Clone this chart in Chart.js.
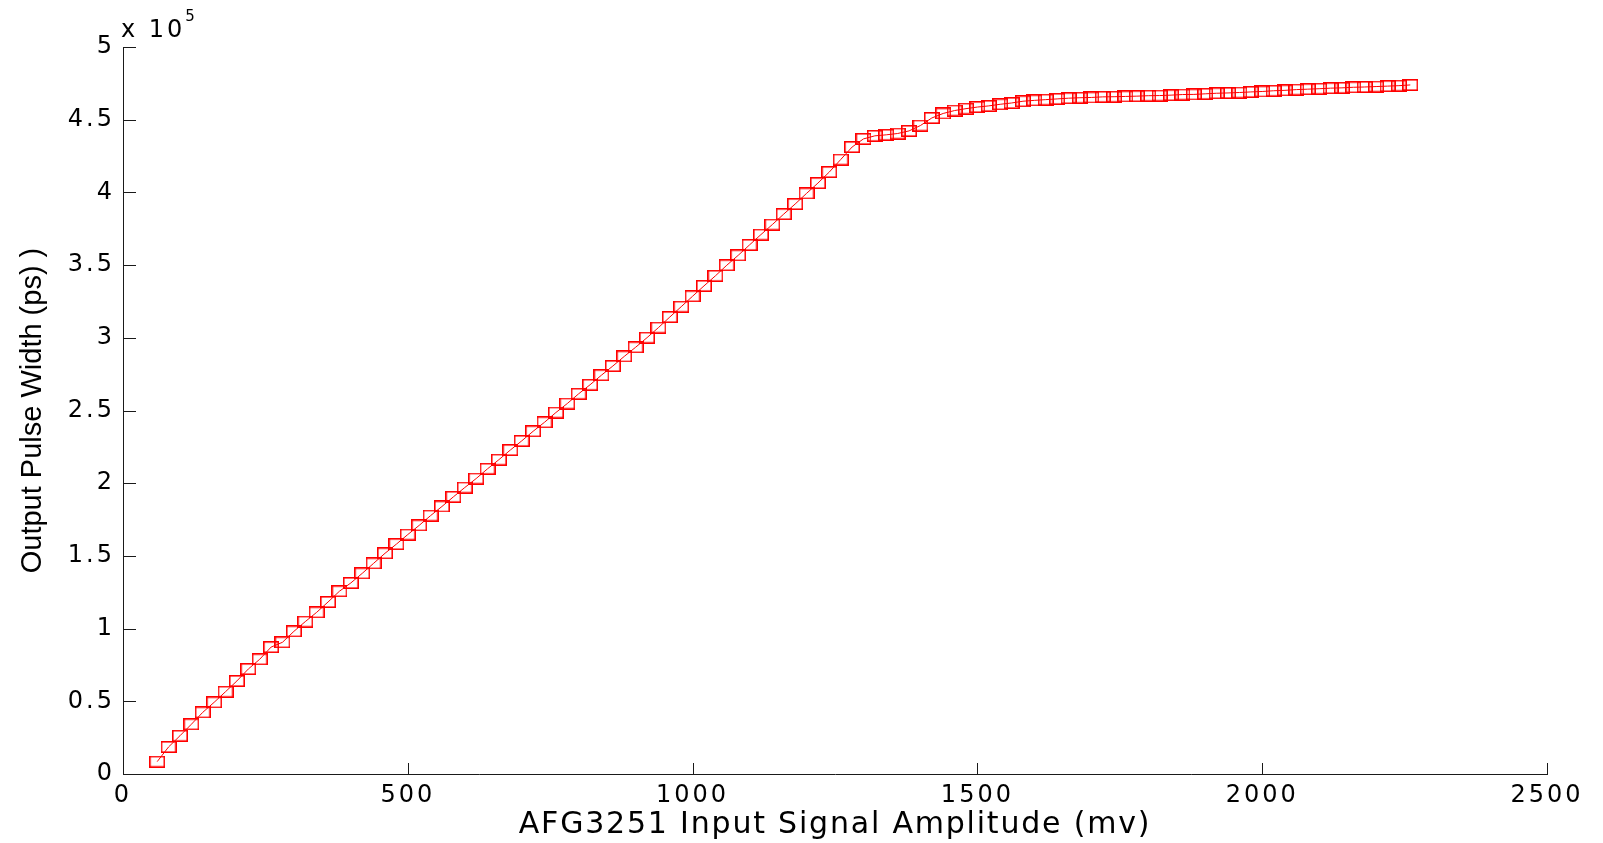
<!DOCTYPE html>
<html>
<head>
<meta charset="utf-8">
<script src="https://cdn.jsdelivr.net/npm/chart.js@4.4.1/dist/chart.umd.min.js"></script>
<style>
  html, body { margin: 0; padding: 0; background: #ffffff; }
  canvas { display: block; }
</style>
</head>
<body>
<canvas id="chart" width="1603" height="843"></canvas>
<script>
// ---- data ----
const amplitudeMv = [
  60, 80, 100, 120, 140, 160, 180, 200, 220, 240,
  260, 280, 300, 320, 340, 360, 380, 400, 420, 440,
  460, 480, 500, 520, 540, 560, 580, 600, 620, 640,
  660, 680, 700, 720, 740, 760, 780, 800, 820, 840,
  860, 880, 900, 920, 940, 960, 980, 1000, 1020, 1040,
  1060, 1080, 1100, 1120, 1140, 1160, 1180, 1200, 1220, 1240,
  1260, 1280, 1300, 1320, 1340, 1360, 1380, 1400, 1420, 1440,
  1460, 1480, 1500, 1520, 1540, 1560, 1580, 1600, 1620, 1640,
  1660, 1680, 1700, 1720, 1740, 1760, 1780, 1800, 1820, 1840,
  1860, 1880, 1900, 1920, 1940, 1960, 1980, 2000, 2020, 2040,
  2060, 2080, 2100, 2120, 2140, 2160, 2180, 2200, 2220, 2240,
  2260
];
const pulseWidthPs = [
  8500, 18600, 26300, 34200, 42400, 49300, 56600, 64000, 72200, 78900,
  87300, 90600, 98100, 104800, 111200, 118300, 125700, 131400, 138000, 144900,
  151800, 158100, 164700, 171000, 177700, 184000, 190600, 197000, 203200, 209900,
  216200, 222800, 229100, 235700, 241900, 248600, 254800, 261500, 267700, 274300,
  280600, 287200, 293500, 300100, 307000, 314300, 321400, 328600, 335700, 342600,
  349900, 356700, 363900, 371000, 377900, 385100, 392000, 399300, 406400, 414000,
  422600, 431200, 436800, 438900, 439600, 440500, 442300, 446000, 451200, 454300,
  456300, 457600, 458700, 459500, 460600, 461500, 462700, 463300, 463800, 464300,
  464800, 465100, 465300, 465700, 465800, 466000, 466200, 466500, 466600, 466900,
  467300, 467400, 467800, 468200, 468400, 468700, 469100, 469400, 469900, 470200,
  470700, 471000, 471300, 471700, 471900, 472300, 472500, 472800, 473100, 473400,
  473900
];
const xTickValues = [0, 500, 1000, 1500, 2000, 2500];
const yTickLabels = ['0', '0.5', '1', '1.5', '2', '2.5', '3', '3.5', '4', '4.5', '5'];
const yExponent = 5;
const xTitle = 'AFG3251 Input Signal Amplitude (mv)';
const yTitle = 'Output Pulse Width (ps) )';

// ---- styles ----
const FONT = "'DejaVu Sans', 'Liberation Sans', Arial, sans-serif";
const FONT_Y = "'Liberation Sans', Arial, Helvetica, sans-serif";
const RED = '#ff0000';
const TICK_SPACING = '3px';
const XTITLE_SPACING = '1.8px';

// square marker (the reference squares are wider than tall)
const marker = document.createElement('canvas');
marker.width = 16; marker.height = 12;
(function () {
  const m = marker.getContext('2d');
  m.strokeStyle = RED;
  m.lineWidth = 1.6;
  m.strokeRect(0.8, 0.8, 14.4, 10.4);
})();

const points = amplitudeMv.map((x, i) => ({ x: x, y: pulseWidthPs[i] }));

// letter spacing for tick labels / x title
const spacingPlugin = {
  id: 'spacing',
  beforeDraw(chart) {
    ['x', 'y'].forEach(id => {
      const s = chart.scales[id];
      if (!s || s._spacingPatched) return;
      const dl = s.drawLabels, dt = s.drawTitle;
      s.drawLabels = function (area) {
        const c = this.ctx; c.letterSpacing = TICK_SPACING;
        dl.call(this, area);
        c.letterSpacing = '0px';
      };
      s.drawTitle = function () {
        const c = this.ctx; c.letterSpacing = (id === 'x') ? XTITLE_SPACING : '0px';
        dt.call(this);
        c.letterSpacing = '0px';
      };
      s._spacingPatched = true;
    });
  }
};

// ticks drawn inside the axes, plus the "x 10^5" multiplier
const insideTicksPlugin = {
  id: 'insideTicks',
  afterDraw(chart) {
    const ctx = chart.ctx;
    const area = chart.chartArea;
    const xs = chart.scales.x, ys = chart.scales.y;
    ctx.save();
    ctx.strokeStyle = '#1a1a1a';
    ctx.lineWidth = 1;
    ctx.beginPath();
    xs.ticks.forEach(t => {
      const px = Math.round(xs.getPixelForValue(t.value)) + 0.5;
      ctx.moveTo(px, area.bottom);
      ctx.lineTo(px, area.bottom - 11);
    });
    ys.ticks.forEach(t => {
      const py = Math.round(ys.getPixelForValue(t.value)) + 0.5;
      ctx.moveTo(area.left, py);
      ctx.lineTo(area.left + 13, py);
    });
    ctx.stroke();

    ctx.fillStyle = '#000';
    ctx.letterSpacing = TICK_SPACING;
    ctx.font = '24px ' + FONT;
    ctx.textAlign = 'left';
    ctx.textBaseline = 'alphabetic';
    const baseText = 'x 10';
    ctx.fillText(baseText, area.left - 2, area.top - 10);
    const w = ctx.measureText(baseText).width;
    ctx.letterSpacing = '0px';
    ctx.font = '15px ' + FONT;
    ctx.fillText(String(yExponent), area.left - 2 + w, area.top - 26);
    ctx.restore();
  }
};

new Chart(document.getElementById('chart'), {
  type: 'scatter',
  data: {
    datasets: [{
      data: points,
      showLine: true,
      borderColor: RED,
      borderWidth: 1,
      pointStyle: marker,
      pointRadius: 7,
      pointHoverRadius: 7,
      backgroundColor: 'rgba(0,0,0,0)',
      tension: 0
    }]
  },
  options: {
    responsive: false,
    animation: false,
    devicePixelRatio: 1,
    layout: { padding: { left: 0, right: 56, top: 47, bottom: 0 } },
    plugins: {
      legend: { display: false },
      tooltip: { enabled: false },
      title: { display: false }
    },
    scales: {
      x: {
        type: 'linear',
        min: xTickValues[0],
        max: xTickValues[xTickValues.length - 1],
        afterBuildTicks(scale) { scale.ticks = xTickValues.map(v => ({ value: v })); },
        ticks: {
          color: '#000',
          font: { family: FONT, size: 24 },
          padding: 7,
          maxRotation: 0,
          callback: v => String(v)
        },
        grid: { display: false, drawTicks: false },
        border: { display: true, color: '#1a1a1a', width: 1 },
        title: {
          display: true,
          text: xTitle,
          color: '#000',
          font: { family: FONT, size: 30 },
          padding: { top: 0, bottom: 0 }
        },
        afterFit(scale) { scale.height = 69; }
      },
      y: {
        type: 'linear',
        min: 0,
        max: 500000,
        afterBuildTicks(scale) {
          scale.ticks = yTickLabels.map(l => ({ value: parseFloat(l) * Math.pow(10, yExponent) }));
        },
        ticks: {
          color: '#000',
          font: { family: FONT, size: 24 },
          padding: 8,
          callback: (v) => yTickLabels[Math.round(v / Math.pow(10, yExponent) * 2)]
        },
        grid: { display: false, drawTicks: false },
        border: { display: true, color: '#1a1a1a', width: 1 },
        title: {
          display: true,
          text: yTitle,
          color: '#000',
          font: { family: FONT_Y, size: 29 },
          padding: { top: 16, bottom: 0 }
        },
        afterFit(scale) { scale.width = 123; }
      }
    }
  },
  plugins: [spacingPlugin, insideTicksPlugin]
});
</script>
</body>
</html>
